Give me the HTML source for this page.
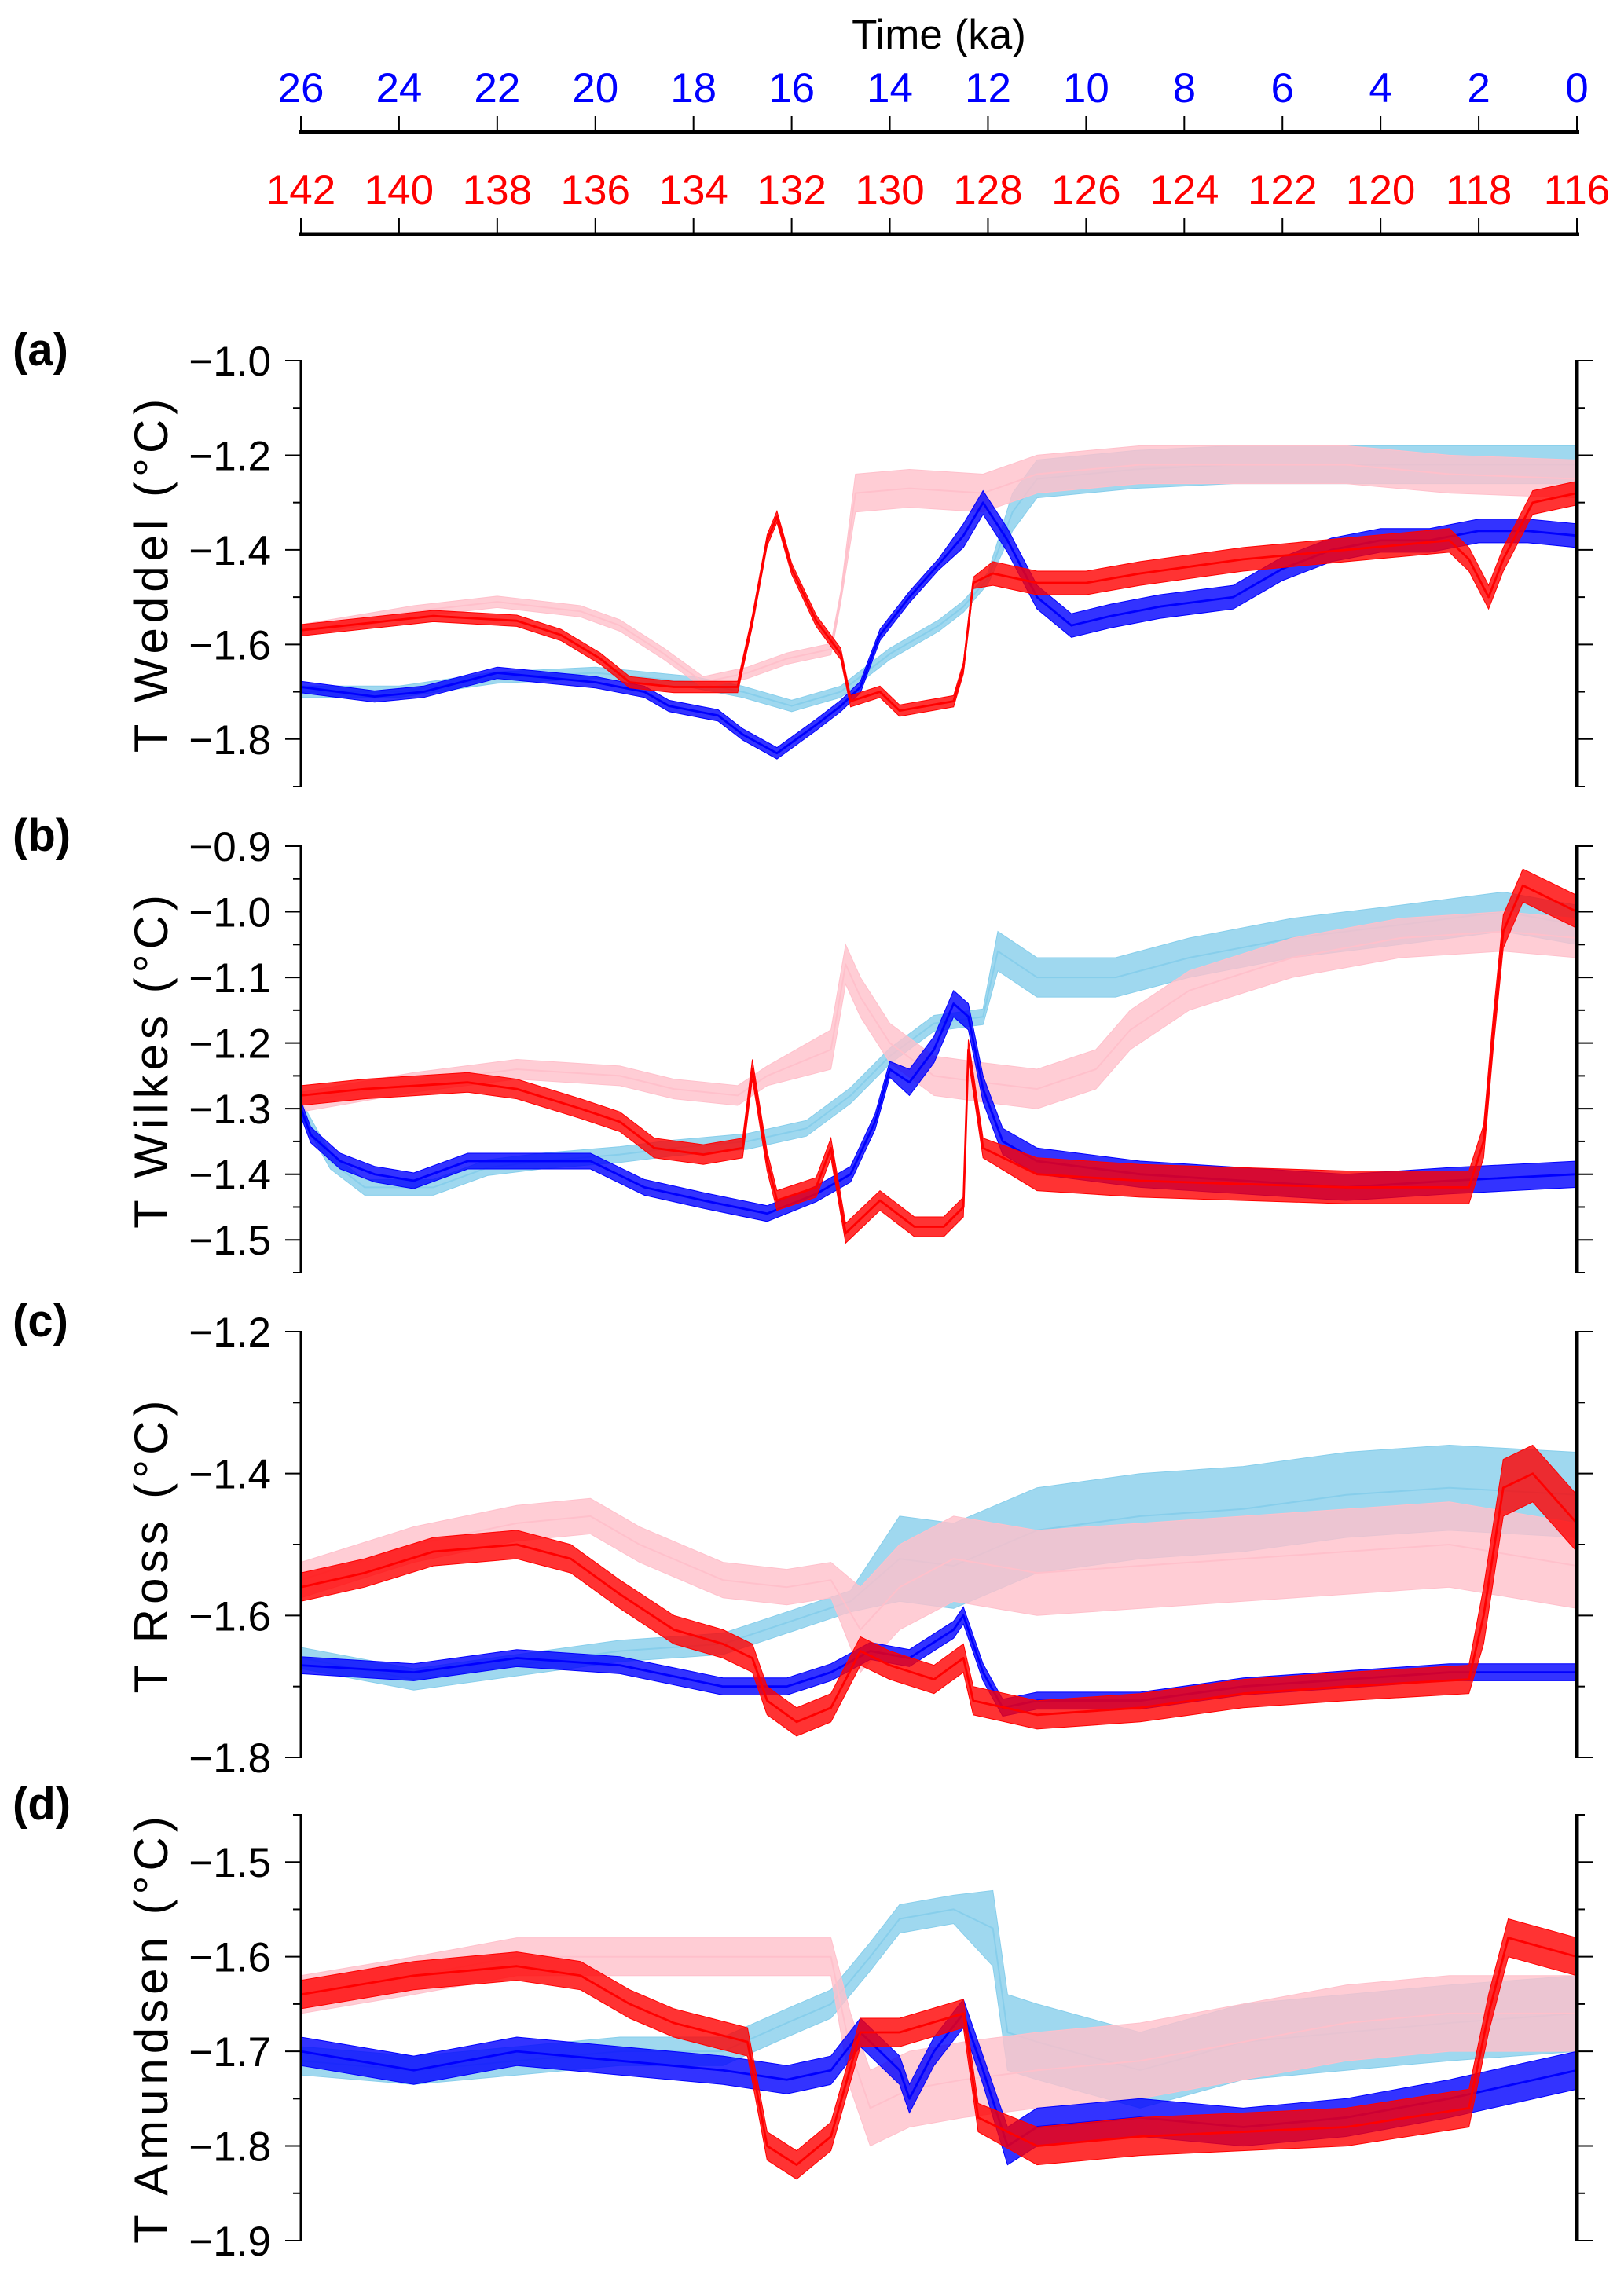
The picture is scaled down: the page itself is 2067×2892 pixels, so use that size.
<!DOCTYPE html>
<html><head><meta charset="utf-8"><style>
html,body{margin:0;padding:0;background:#fff;}
svg{display:block;font-family:"Liberation Sans",Arial,sans-serif;}
</style></head><body>
<svg id="fig" width="2067" height="2892" viewBox="0 0 2067 2892" xmlns="http://www.w3.org/2000/svg">
<g id="topaxes"></g>
<g id="panels"></g>
</svg>
<script>
// ---- time axes ----
const glacialTicks = [26,24,22,20,18,16,14,12,10,8,6,4,2,0];
const interglacialTicks = [142,140,138,136,134,132,130,128,126,124,122,120,118,116];

// ---- panel (a) Weddel ----
const aSkyT = [26,24,22,20,18,17,16,15,14,13,12.5,12,11.5,11,9,7,5,3,1,0];
const aSkyV = [-1.70,-1.70,-1.67,-1.66,-1.68,-1.70,-1.73,-1.70,-1.62,-1.56,-1.52,-1.46,-1.32,-1.25,-1.23,-1.22,-1.22,-1.22,-1.22,-1.22];
const aBlueT = [26,24.5,23.5,22,21,20,19,18.5,17.5,17,16.3,15.5,15,14.6,14.2,13.6,13,12.5,12.1,11.6,11,10.3,9.5,8.5,7,6,5,4,3,2,1,0];
const aBlueV = [-1.69,-1.71,-1.70,-1.66,-1.67,-1.68,-1.70,-1.73,-1.75,-1.79,-1.83,-1.77,-1.73,-1.69,-1.58,-1.50,-1.43,-1.37,-1.30,-1.38,-1.50,-1.56,-1.54,-1.52,-1.50,-1.44,-1.40,-1.38,-1.38,-1.36,-1.36,-1.37];
const aRedT = [142,139.3,137.6,136.7,135.9,135.3,134.4,133.1,132.8,132.5,132.3,132,131.5,131,130.8,130.2,129.8,128.7,128.5,128.3,127.9,127,126,124.9,122.8,120.7,118.6,118.2,117.8,117.5,116.9,116];
const aRedV = [-1.57,-1.54,-1.55,-1.58,-1.63,-1.68,-1.69,-1.69,-1.55,-1.38,-1.33,-1.44,-1.55,-1.62,-1.72,-1.70,-1.74,-1.72,-1.65,-1.47,-1.45,-1.47,-1.47,-1.45,-1.42,-1.40,-1.38,-1.42,-1.50,-1.42,-1.30,-1.28];
const aPinkT = [142,139.7,138,136.3,135.5,134.6,133.8,132.9,132.1,131.2,131,130.7,129.6,128.1,127,124.9,120.7,118.6,116];
const aPinkV = [-1.57,-1.53,-1.51,-1.53,-1.56,-1.62,-1.68,-1.66,-1.63,-1.61,-1.50,-1.28,-1.27,-1.28,-1.24,-1.22,-1.22,-1.24,-1.25];
const aNoiseEarly = [0.012,0.012,0.012,0.012];
const aNoiseLate = [0.04,0.04,0.025,0.025];
const aNoiseSplit = [12,130.8,13,128.3];

// ---- panel (b) Wilkes ----
const bSkyT = [26,25.4,24.7,23.3,22.2,21.1,19.5,18.4,16.9,15.7,14.8,14,13.1,12.1,11.8,11,9.4,7.9,5.8,3.6,1.5,0];
const bSkyV = [-1.30,-1.38,-1.42,-1.42,-1.39,-1.38,-1.37,-1.36,-1.35,-1.33,-1.28,-1.22,-1.17,-1.16,-1.06,-1.10,-1.10,-1.07,-1.04,-1.02,-1.00,-1.02];
const bBlueT = [26,25.8,25.2,24.5,23.7,22.6,21.6,20.1,19,17.8,16.5,15.5,14.8,14.3,14,13.6,13.1,12.7,12.4,12.1,11.7,11,8.9,6.8,4.7,2.6,0];
const bBlueV = [-1.30,-1.34,-1.38,-1.40,-1.41,-1.38,-1.38,-1.38,-1.42,-1.44,-1.46,-1.43,-1.40,-1.32,-1.24,-1.26,-1.21,-1.14,-1.16,-1.27,-1.35,-1.38,-1.40,-1.41,-1.42,-1.41,-1.40];
const bRedT = [142,140.7,138.6,137.6,136.3,135.5,134.8,133.8,133,132.8,132.5,132.3,131.5,131.2,130.9,130.2,129.5,128.9,128.5,128.4,128.1,127,124.9,120.7,118.2,117.9,117.7,117.5,117.1,116];
const bRedV = [-1.28,-1.27,-1.26,-1.27,-1.30,-1.32,-1.36,-1.37,-1.36,-1.24,-1.38,-1.44,-1.42,-1.36,-1.49,-1.44,-1.48,-1.48,-1.45,-1.21,-1.36,-1.40,-1.41,-1.42,-1.42,-1.35,-1.18,-1.03,-0.96,-1.00];
const bPinkT = [142,139.7,137.6,135.5,134.4,133.1,132.5,131.2,130.9,130.6,130,129.1,128.1,127,125.8,125.1,123.9,121.8,119.6,117.5,116];
const bPinkV = [-1.29,-1.26,-1.24,-1.25,-1.27,-1.28,-1.25,-1.21,-1.08,-1.13,-1.20,-1.25,-1.26,-1.27,-1.24,-1.18,-1.12,-1.07,-1.04,-1.03,-1.04];
const bNoiseEarly = [0.012,0.015,0.012,0.015];
const bNoiseLate = [0.03,0.03,0.02,0.025];
const bNoiseSplit = [12,131.5,14,128];

// ---- panel (c) Ross ----
const cSkyT = [26,23.7,21.6,19.5,17.4,16.1,14.8,13.8,12.7,11,8.9,6.8,4.7,2.6,0];
const cSkyV = [-1.66,-1.69,-1.67,-1.65,-1.64,-1.61,-1.58,-1.52,-1.53,-1.48,-1.46,-1.45,-1.43,-1.42,-1.43];
const cBlueT = [26,23.7,21.6,19.5,17.4,16.1,15.2,14.4,13.6,12.7,12.5,12.1,11.7,11,8.9,6.8,4.7,2.6,0];
const cBlueV = [-1.67,-1.68,-1.66,-1.67,-1.70,-1.70,-1.68,-1.65,-1.66,-1.62,-1.60,-1.68,-1.73,-1.72,-1.72,-1.70,-1.69,-1.68,-1.68];
const cRedT = [142,140.7,139.3,137.6,136.5,135.5,134.4,133.4,132.8,132.5,131.9,131.2,130.6,130,129.1,128.5,128.3,127,124.9,122.8,120.7,118.2,117.9,117.5,116.9,116];
const cRedV = [-1.56,-1.54,-1.51,-1.50,-1.52,-1.57,-1.62,-1.64,-1.66,-1.72,-1.75,-1.73,-1.65,-1.67,-1.69,-1.66,-1.72,-1.74,-1.73,-1.71,-1.70,-1.69,-1.60,-1.42,-1.40,-1.47];
const cPinkT = [142,139.7,137.6,136.1,135.1,133.4,132.1,131.2,130.6,129.8,128.7,127,122.8,118.6,116];
const cPinkV = [-1.55,-1.50,-1.47,-1.46,-1.50,-1.55,-1.56,-1.55,-1.62,-1.56,-1.52,-1.54,-1.52,-1.50,-1.53];
const cNoiseEarly = [0.015,0.025,0.012,0.02];
const cNoiseLate = [0.06,0.06,0.012,0.04];
const cNoiseSplit = [14,131,-1,118];

// ---- panel (d) Amundsen ----
const dSkyT = [26,23.7,21.6,19.5,17.4,16.1,15.2,14.4,13.8,12.7,11.9,11.6,11,8.9,6.8,4.7,2.6,0];
const dSkyV = [-1.71,-1.72,-1.71,-1.70,-1.70,-1.67,-1.65,-1.60,-1.56,-1.55,-1.57,-1.68,-1.69,-1.72,-1.69,-1.68,-1.67,-1.66];
const dBlueT = [26,23.7,21.6,19.5,17.4,16.1,15.2,14.6,13.8,13.6,13.1,12.5,12.1,11.6,11,8.9,6.8,4.7,2.6,0];
const dBlueV = [-1.70,-1.72,-1.70,-1.71,-1.72,-1.73,-1.72,-1.68,-1.72,-1.75,-1.70,-1.66,-1.72,-1.80,-1.78,-1.77,-1.78,-1.77,-1.75,-1.72];
const dRedT = [142,139.7,137.6,136.3,135.3,134.4,132.9,132.5,131.9,131.2,130.6,129.8,128.5,128.2,127,124.9,120.7,118.2,117.8,117.4,116];
const dRedV = [-1.64,-1.62,-1.61,-1.62,-1.65,-1.67,-1.69,-1.80,-1.82,-1.79,-1.68,-1.68,-1.66,-1.77,-1.80,-1.79,-1.78,-1.76,-1.66,-1.58,-1.60];
const dPinkT = [142,139.7,137.6,135.5,133.4,131.2,130.8,130.4,129.6,128.5,127,124.9,122.8,120.7,118.6,116];
const dPinkV = [-1.64,-1.62,-1.60,-1.60,-1.60,-1.60,-1.70,-1.76,-1.74,-1.73,-1.72,-1.71,-1.69,-1.67,-1.66,-1.66];
const dNoiseEarly = [0.015,0.02,0.015,0.015];
const dNoiseLate = [0.04,0.04,0.02,0.02];
const dNoiseSplit = [12,131,12,128];

const NS = 'http://www.w3.org/2000/svg';
const X0 = 383, X1 = 2007;
function xGlacial(t){ return X0 + (26 - t) / 26 * (X1 - X0); }
function xInter(t){ return X0 + (142 - t) / 26 * (X1 - X0); }
function mk(tag, attrs, parent){
  const e = document.createElementNS(NS, tag);
  for (const k in attrs) e.setAttribute(k, attrs[k]);
  parent.appendChild(e);
  return e;
}
function fmt(v, d){ return (v < 0 ? '\u2212' : '') + Math.abs(v).toFixed(d); }

const topG = document.getElementById('topaxes');
const title = mk('text', {x:1195, y:62, 'font-size':53, 'text-anchor':'middle', fill:'#000'}, topG);
title.textContent = 'Time (ka)';


function topAxis(ticks, yLine, yLab, color, xf, name){
  const g = mk('g', {}, topG);
  
  
  mk('line', {x1:X0-2, x2:X1+3, y1:yLine, y2:yLine, stroke:'#000', 'stroke-width':5}, g);
  ticks.forEach(t => {
    const x = xf(t);
    mk('line', {x1:x, x2:x, y1:yLine-20, y2:yLine, stroke:'#000', 'stroke-width':2}, g);
    const lb = mk('text', {x:x, y:yLab, 'font-size':53, 'text-anchor':'middle', fill:color}, g);
    lb.textContent = String(t);
    
    
  });
}
topAxis(glacialTicks, 168, 130, '#0000ff', xGlacial, 'glacial-time-axis');
topAxis(interglacialTicks, 298, 260, '#ff0000', xInter, 'interglacial-time-axis');

const panelsG = document.getElementById('panels');
const panelDefs = [
  {id:'a', label:'T Weddel (\u00b0C)', y0:459, y1:1001, vmax:-1.0, vmin:-1.9, major:0.2, minor:0.1, dec:1, majorStart:-1.0,
   series:[[aSkyT,aSkyV],[aPinkT,aPinkV],[aBlueT,aBlueV],[aRedT,aRedV]], ne:aNoiseEarly, nl:aNoiseLate, ns:aNoiseSplit},
  {id:'b', label:'T Wilkes (\u00b0C)', y0:1077, y1:1620, vmax:-0.9, vmin:-1.55, major:0.1, minor:0.05, dec:1, majorStart:-0.9,
   series:[[bSkyT,bSkyV],[bPinkT,bPinkV],[bBlueT,bBlueV],[bRedT,bRedV]], ne:bNoiseEarly, nl:bNoiseLate, ns:bNoiseSplit},
  {id:'c', label:'T Ross (\u00b0C)', y0:1695, y1:2237, vmax:-1.2, vmin:-1.8, major:0.2, minor:0.1, dec:1, majorStart:-1.2,
   series:[[cSkyT,cSkyV],[cPinkT,cPinkV],[cBlueT,cBlueV],[cRedT,cRedV]], ne:cNoiseEarly, nl:cNoiseLate, ns:cNoiseSplit},
  {id:'d', label:'T Amundsen (\u00b0C)', y0:2310, y1:2852, vmax:-1.45, vmin:-1.9, major:0.1, minor:0.05, dec:1, majorStart:-1.5,
   series:[[dSkyT,dSkyV],[dPinkT,dPinkV],[dBlueT,dBlueV],[dRedT,dRedV]], ne:dNoiseEarly, nl:dNoiseLate, ns:dNoiseSplit}
];
const colors = ['#87ceeb','#ffc0cb','#0000ff','#ff0000'];
const names = ['lightblue-series','pink-series','blue-series','red-series'];
const widths = [2,2,2.8,2.8];

panelDefs.forEach(p => {
  const g = mk('g', {}, panelsG);
  
  
  const yv = v => p.y0 + (p.vmax - v) / (p.vmax - p.vmin) * (p.y1 - p.y0);

  p.series.forEach((s, i) => {
    const T = s[0], V = s[1];
    const xf = (i === 1 || i === 3) ? xInter : xGlacial;
    const up = [], dn = [], ln = [];
    T.forEach((t, k) => {
      const sp = (t < p.ns[i]) ? p.nl[i] : p.ne[i];
      const x = xf(t).toFixed(1);
      up.push(x + ',' + yv(V[k] + sp).toFixed(1));
      dn.push(x + ',' + yv(V[k] - sp).toFixed(1));
      ln.push(x + ',' + yv(V[k]).toFixed(1));
    });
    const band = mk('polygon', {points: up.concat(dn.reverse()).join(' '), fill:colors[i], 'fill-opacity':0.8, stroke:colors[i], 'stroke-width':1}, g);
    
    
    const line = mk('polyline', {points: ln.join(' '), fill:'none', stroke:colors[i], 'stroke-width':widths[i], 'stroke-linejoin':'round'}, g);
    
    
  });

  const ax = mk('g', {}, g);
  
  
  mk('line', {x1:X0, x2:X0, y1:p.y0-1, y2:p.y1+1, stroke:'#000', 'stroke-width':3}, ax);
  mk('line', {x1:X1, x2:X1, y1:p.y0-1, y2:p.y1+1, stroke:'#000', 'stroke-width':5}, ax);
  const n = Math.round((p.vmax - p.vmin) / p.minor);
  for (let k = 0; k <= n; k++){
    const v = p.vmax - k * p.minor;
    const y = yv(v);
    const r = (p.majorStart - v) / p.major;
    const isMajor = Math.abs(r - Math.round(r)) < 1e-6;
    const L = isMajor ? 20 : 10;
    mk('line', {x1:X0-L, x2:X0, y1:y, y2:y, stroke:'#000', 'stroke-width':2}, ax);
    mk('line', {x1:X1, x2:X1+L, y1:y, y2:y, stroke:'#000', 'stroke-width':2}, ax);
    if (isMajor){
      const lb = mk('text', {x:345, y:y+19, 'font-size':53, 'text-anchor':'end', fill:'#000'}, ax);
      lb.textContent = fmt(v, p.dec);
      
      
    }
  }
  const cy = (p.y0 + p.y1) / 2;
  const yl = mk('text', {x:0, y:0, 'font-size':60, 'letter-spacing':6, 'text-anchor':'middle', fill:'#000', transform:'translate(213,' + cy + ') rotate(-90)'}, g);
  yl.textContent = p.label;
  
  
  const pl = mk('text', {x:16, y:p.y0+6, 'font-size':58, 'font-weight':'bold', fill:'#000'}, g);
  pl.textContent = '(' + p.id + ')';
  
  
});
</script>
</body></html>
